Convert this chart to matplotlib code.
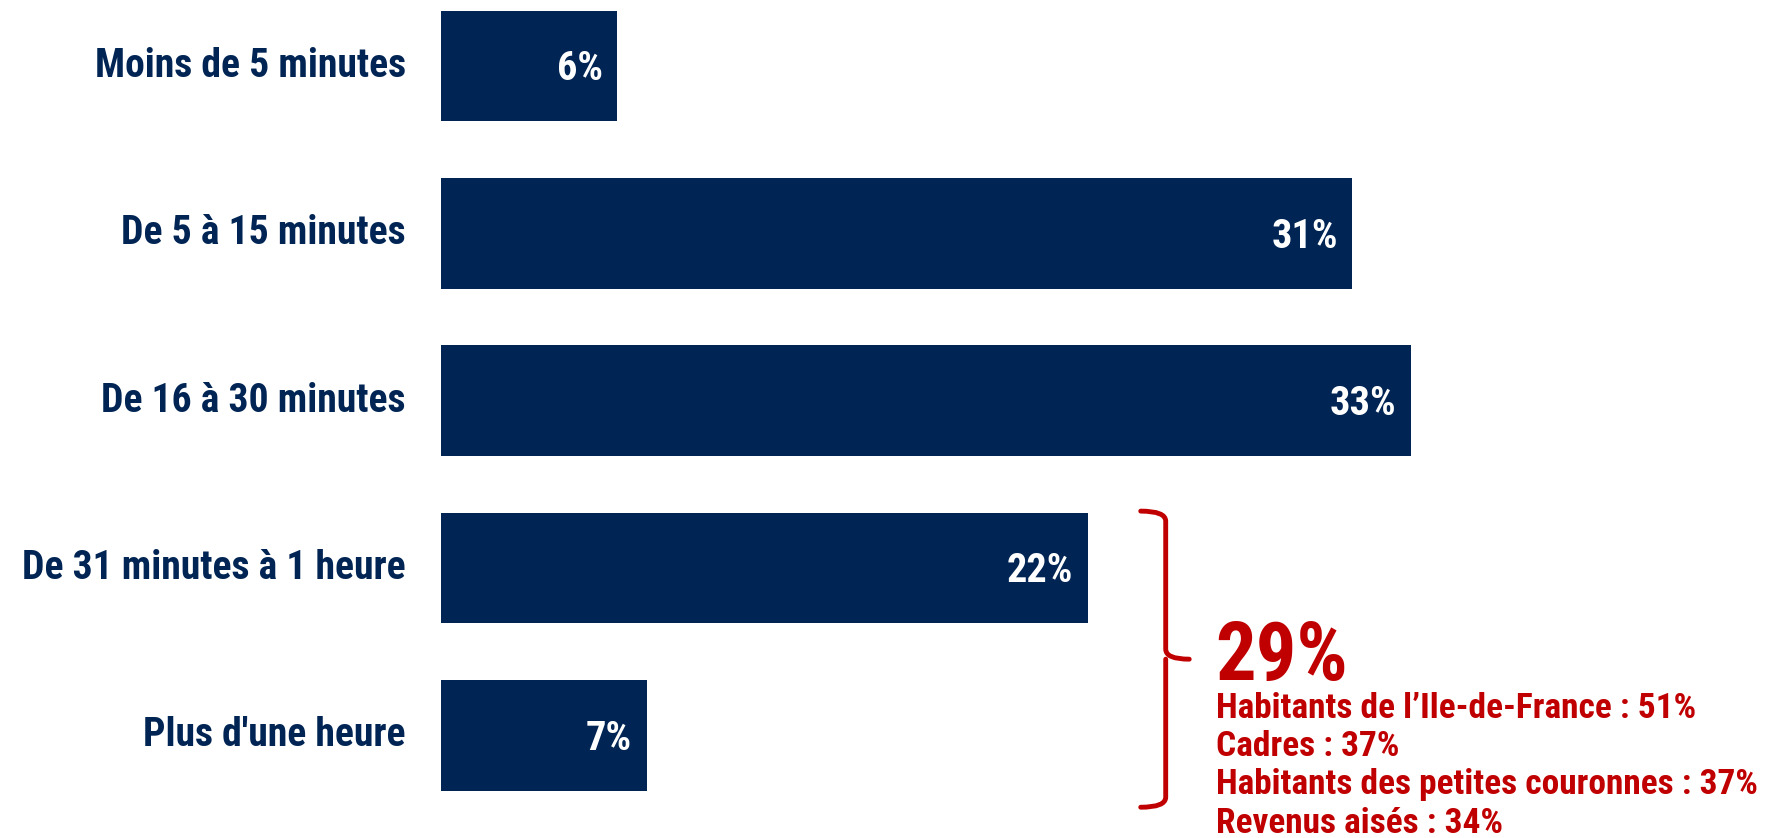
import matplotlib
matplotlib.use("Agg")
import matplotlib.pyplot as plt
from matplotlib import font_manager
from matplotlib.path import Path
from matplotlib.patches import PathPatch

categories = ["Moins de 5 minutes", "De 5 à 15 minutes", "De 16 à 30 minutes",
              "De 31 minutes à 1 heure", "Plus d'une heure"]
values = [6, 31, 33, 22, 7]
total_label = "29%"
details = ["Habitants de l\u2019Ile-de-France : 51%", "Cadres : 37%",
           "Habitants des petites couronnes : 37%", "Revenus aisés : 34%"]

navy = "#002554"
red = "#C00000"

names = {f.name for f in font_manager.fontManager.ttflist}
font = "Roboto"
for cand in ["Roboto Condensed", "Liberation Sans Narrow", "Open Sans Condensed"]:
    if cand in names:
        font = cand
        break
plt.rcParams['font.family'] = [font, 'DejaVu Sans']

W, H = 1775, 838
left_px = 441
px_per_unit = 29.4
row_px = 167.3
first_px = 66.1

fig = plt.figure(figsize=(W / 100, H / 100), dpi=100)
ax = fig.add_axes([left_px / W, 0, 1 - left_px / W, 1])

y = list(range(len(values)))
ax.barh(y, values, height=0.66, color=navy)
ax.set_xlim(0, (W - left_px) / px_per_unit)
ax.set_ylim((H - first_px) / row_px, -first_px / row_px)
ax.axis("off")

for i, v in enumerate(values):
    ax.text(v - 0.5, i + 0.02, f"{v}%", color="white", fontsize=29, fontweight="bold",
            ha="right", va="center")
    ax.text(-1.2, i, categories[i], color=navy, fontsize=28.5, fontweight="bold",
            ha="right", va="center")

# bracket grouping the last two bars
top = 3 - 0.34
bot = 4 + 0.43
mid = (top + bot) / 2
x0, x1, xt = 23.8, 24.65, 25.45
dy = 0.06
verts = [(x0, top), (x1, top), (x1, top + dy),
         (x1, mid - dy), (x1, mid), (xt, mid),
         (x1, mid), (x1, mid + dy),
         (x1, bot - dy), (x1, bot), (x0, bot)]
codes = [Path.MOVETO, Path.CURVE3, Path.CURVE3,
         Path.LINETO, Path.CURVE3, Path.CURVE3,
         Path.MOVETO, Path.LINETO,
         Path.LINETO, Path.CURVE3, Path.CURVE3]
ax.add_patch(PathPatch(Path(verts, codes), fill=False, edgecolor=red, lw=3.5,
                       capstyle="round", joinstyle="round"))

ax.text(26.35, 3.67, total_label, color=red, fontsize=58, fontweight="bold",
        ha="left", va="baseline")
for j, line in enumerate(details):
    ax.text(26.35, 3.895 + j * 0.229, line, color=red, fontsize=25.5,
            fontweight="bold", ha="left", va="baseline")

fig.savefig("out.png", dpi=100, facecolor="white")
